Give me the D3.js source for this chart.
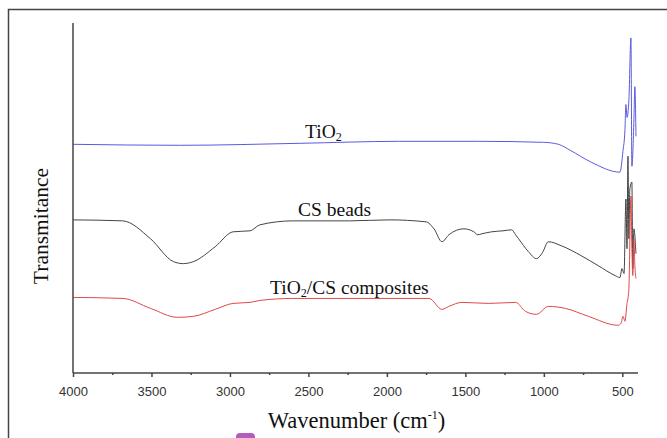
<!DOCTYPE html>
<html>
<head>
<meta charset="utf-8">
<script src="https://cdn.jsdelivr.net/npm/d3@7"></script>
<style>
body{margin:0;background:#fff;}
svg{display:block;}
.tick text{font-family:"Liberation Sans",Arial,sans-serif;font-size:13px;fill:#333;}
.lbl{font-family:"Liberation Serif","Times New Roman",serif;fill:#111;}
</style>
</head>
<body>
<svg id="ftir"></svg>
<script>
var w=667;
var h=438;
var margin={left:73,right:29,top:23,bottom:64};

// wavenumber (cm-1), relative transmittance (arbitrary units)
var tio2=[[4000,230],[3316,229],[2555,231],[1921,233],[1415,233],[1003,232],[907,230],[832,224],[698,212],[515,202],
  [496,223],[483,245],[477,270],[470,257],[458,275],[445,337],[439,208],[426,255],[420,288],[413,238]];
var csBeads=[[4000,154],[3683,153],[3506,135],[3360,112],[3297,110],[3233,112],[3094,127],[2980,142],[2872,143],[2809,149],
  [2600,153],[2238,153],[1985,154],[1750,152],[1700,145],[1649,132],[1605,139],[1510,145],[1446,142],[1420,139],[1395,140],
  [1332,142],[1260,143],[1205,144],[1180,139],[1161,135],[1098,122],[1047,115],[1009,121],[971,132],[889,128],[762,118],
  [654,108],[546,98],[515,96],[502,105],[489,100],[477,175],[470,125],[464,218],[458,135],[452,185],
  [439,192],[433,105],[426,145],[413,120]];
var composite=[[4000,76],[3683,75],[3506,65],[3335,56],[3233,57],[3094,64],[2980,70],[2872,71],[2809,73],[2600,75],
  [1731,75],[1649,64],[1605,67],[1522,71],[1351,70],[1180,71],[1117,62],[1047,59],[971,67],[863,65],
  [717,57],[527,48],[508,50],[496,57],[483,52],[470,70],[464,75],[458,85],[445,178],[439,125],
  [433,98],[426,135],[420,108],[413,95]];
var majorTicks=[4000,3500,3000,2500,2000,1500,1000,500];
var minorTicks=[3750,3250,2750,2250,1750,1250,750];
var seriesNames=["TiO2","CS beads","TiO2/CS composites"];

var svg=d3.select("#ftir").attr("width",w).attr("height",h);

var xScale=d3.scaleLinear().domain([4000,400]).range([margin.left,w-margin.right]);
var yScale=d3.scaleLinear().domain([0,352]).range([h-margin.bottom-1,margin.top]);

// outer frame of the figure
svg.append("path")
   .attr("d","M8.5,438 L8.5,9.5 L667,9.5")
   .attr("fill","none").attr("stroke","#444").attr("stroke-width",1.5);

var line=d3.line()
           .x(function(d){return xScale(d[0]);})
           .y(function(d){return yScale(d[1]);})
           .curve(d3.curveMonotoneX);

var series=[{data:tio2,color:"#5a5ade"},{data:csBeads,color:"#444444"},{data:composite,color:"#e04848"}];
svg.selectAll("path.spec")
   .data(series)
   .enter()
   .append("path")
   .classed("spec",true)
   .attr("d",function(d){return line(d.data);})
   .attr("fill","none")
   .attr("stroke",function(d){return d.color;})
   .attr("stroke-width",1);

// axes
var y0=h-margin.bottom-1;
svg.append("line")
   .attr("x1",margin.left).attr("x2",margin.left)
   .attr("y1",margin.top).attr("y2",y0)
   .attr("stroke","#444").attr("stroke-width",1.5);

var xAxis=d3.axisBottom(xScale).tickValues(majorTicks).tickSize(4).tickPadding(10).tickFormat(d3.format("d"));
var gx=svg.append("g")
   .classed("xAxis",true)
   .attr("transform","translate(0,"+y0+")")
   .call(xAxis);
gx.select(".domain").attr("stroke","#444").attr("stroke-width",1.5).attr("d","M"+margin.left+",0H"+(w-margin.right));
gx.selectAll(".tick line").attr("stroke","#444").attr("stroke-width",1.5);

var xMinor=d3.axisBottom(xScale).tickValues(minorTicks).tickSize(2).tickFormat("");
var gm=svg.append("g")
   .attr("transform","translate(0,"+y0+")")
   .call(xMinor);
gm.select(".domain").remove();
gm.selectAll(".tick line").attr("stroke","#444").attr("stroke-width",1.5);

// axis titles
var xt=svg.append("text").classed("lbl",true)
   .attr("x",(margin.left+w-margin.right)/2+1).attr("y",428)
   .attr("text-anchor","middle").attr("font-size",22.5);
xt.append("tspan").text("Wavenumber (cm");
xt.append("tspan").attr("font-size",12).attr("dy",-9).text("-1");
xt.append("tspan").attr("dy",9).text(")");

svg.append("text").classed("lbl",true)
   .attr("transform","translate(48,226) rotate(-90)")
   .attr("text-anchor","middle").attr("font-size",21.5)
   .text("Transmitance");

// series labels
function subLabel(x,y,parts){
  var t=svg.append("text").classed("lbl",true).attr("x",x).attr("y",y).attr("font-size",19.5);
  parts.forEach(function(p){
    if(p.sub){t.append("tspan").attr("font-size",12).attr("dy",3).text(p.s);}
    else{t.append("tspan").attr("dy",p.after?-3:0).text(p.s);}
  });
}
subLabel(305,138,[{s:"TiO"},{s:"2",sub:true}]);
svg.append("text").classed("lbl",true).attr("x",298).attr("y",216).attr("font-size",19.5).text(seriesNames[1]);
subLabel(270,294,[{s:"TiO"},{s:"2",sub:true},{s:"/CS composites",after:true}]);

// stray marker at the bottom edge of the source image
svg.append("rect").attr("x",236).attr("y",433).attr("width",19).attr("height",10).attr("rx",4).attr("fill","#b35cbc");
</script>
</body>
</html>
